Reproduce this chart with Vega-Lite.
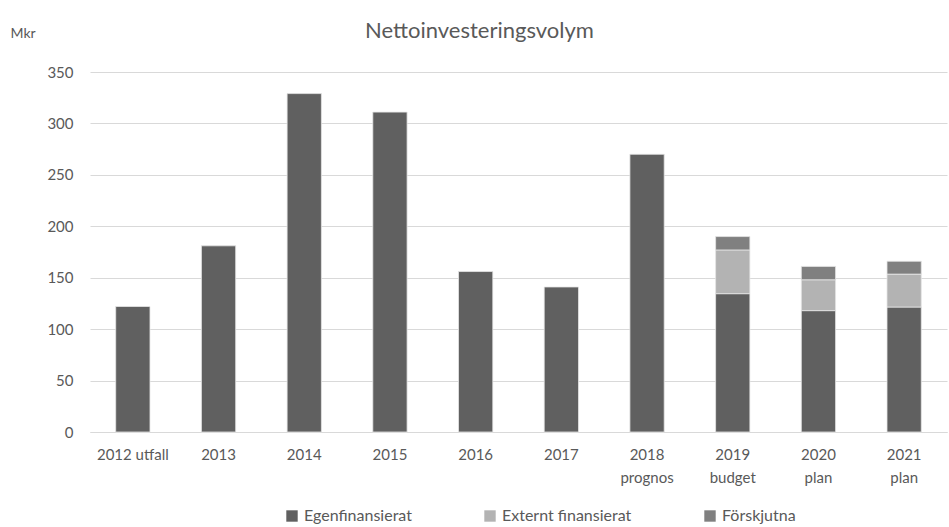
{
  "$schema": "https://vega.github.io/schema/vega-lite/v6.json",
  "autosize": "none",
  "width": 857,
  "height": 360,
  "padding": {"left": 90, "top": 72, "right": 2, "bottom": 95},
  "background": "white",
  "config": {
    "font": "Lato",
    "view": {"stroke": null}
  },
  "title": {
    "text": "Nettoinvesteringsvolym",
    "anchor": "middle",
    "dx": -39,
    "offset": -17,
    "fontSize": 22,
    "fontWeight": "normal",
    "color": "#595959",
    "font": "Lato"
  },
  "data": {
    "values": [
      {"cat": "2012 utfall", "serie": "Egenfinansierat", "o": 1, "v": 122},
      {"cat": "2013", "serie": "Egenfinansierat", "o": 1, "v": 181},
      {"cat": "2014", "serie": "Egenfinansierat", "o": 1, "v": 329},
      {"cat": "2015", "serie": "Egenfinansierat", "o": 1, "v": 311},
      {"cat": "2016", "serie": "Egenfinansierat", "o": 1, "v": 156},
      {"cat": "2017", "serie": "Egenfinansierat", "o": 1, "v": 141},
      {"cat": "2018 prognos", "serie": "Egenfinansierat", "o": 1, "v": 270},
      {"cat": "2019 budget", "serie": "Egenfinansierat", "o": 1, "v": 134.5},
      {"cat": "2019 budget", "serie": "Externt finansierat", "o": 2, "v": 42.5},
      {"cat": "2019 budget", "serie": "Förskjutna", "o": 3, "v": 13},
      {"cat": "2020 plan", "serie": "Egenfinansierat", "o": 1, "v": 118},
      {"cat": "2020 plan", "serie": "Externt finansierat", "o": 2, "v": 30},
      {"cat": "2020 plan", "serie": "Förskjutna", "o": 3, "v": 13},
      {"cat": "2021 plan", "serie": "Egenfinansierat", "o": 1, "v": 121.5},
      {"cat": "2021 plan", "serie": "Externt finansierat", "o": 2, "v": 32},
      {"cat": "2021 plan", "serie": "Förskjutna", "o": 3, "v": 12.5}
    ]
  },
  "mark": {"type": "bar", "stroke": "#e6e6e6", "strokeWidth": 0.8},
  "encoding": {
    "x": {
      "field": "cat",
      "type": "nominal",
      "sort": null,
      "scale": {"paddingInner": 0.6, "paddingOuter": 0.3},
      "axis": {
        "title": null,
        "labelAngle": 0,
        "labelExpr": "datum.value == '2012 utfall' ? datum.value : split(datum.value, ' ')",
        "labelFontSize": 15,
        "labelColor": "#595959",
        "labelPadding": 15,
        "labelLineHeight": 23,
        "labelBaseline": "top",
        "ticks": false,
        "domainColor": "#d9d9d9",
        "domainWidth": 1
      }
    },
    "y": {
      "field": "v",
      "type": "quantitative",
      "stack": "zero",
      "scale": {"domain": [0, 350], "nice": false},
      "axis": {
        "values": [0, 50, 100, 150, 200, 250, 300, 350],
        "title": "Mkr",
        "titleAngle": 0,
        "titleAlign": "left",
        "titleBaseline": "middle",
        "titleX": -80,
        "titleY": -39,
        "titleFontSize": 14,
        "titleFontWeight": "normal",
        "titleColor": "#595959",
        "labelFontSize": 15,
        "labelColor": "#595959",
        "labelPadding": 17,
        "ticks": false,
        "domain": false,
        "gridColor": "#d9d9d9",
        "gridWidth": 1
      }
    },
    "color": {
      "field": "serie",
      "type": "nominal",
      "scale": {
        "domain": ["Egenfinansierat", "Externt finansierat", "Förskjutna"],
        "range": ["#606060", "#b3b3b3", "#808080"]
      },
      "legend": {
        "title": null,
        "orient": "none",
        "direction": "horizontal",
        "legendX": 194,
        "legendY": 436,
        "symbolType": "square",
        "symbolSize": 130,
        "symbolStrokeWidth": 0,
        "labelFontSize": 16,
        "labelColor": "#595959",
        "columnPadding": 70,
        "labelOffset": 4
      }
    },
    "order": {"field": "o", "type": "quantitative"}
  }
}
